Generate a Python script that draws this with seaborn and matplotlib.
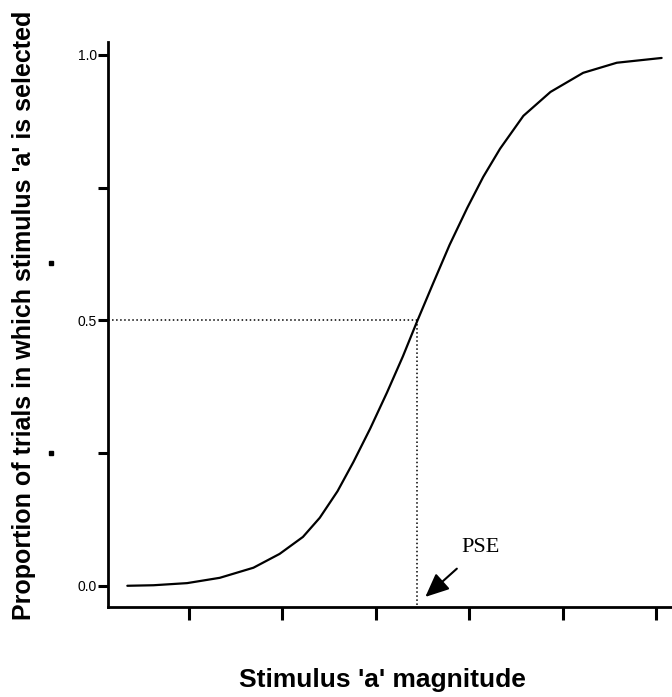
import numpy as np
import pandas as pd
import matplotlib
matplotlib.use('Agg')
import matplotlib.pyplot as plt
import seaborn as sns

# curve (stimulus magnitude in tick units, proportion)
stim = [0.34, 0.62, 0.98, 1.33, 1.69, 1.97, 2.22, 2.40, 2.59, 2.76, 2.94,
        3.12, 3.29, 3.44, 3.61, 3.79, 3.98, 4.15, 4.33, 4.58, 4.87, 5.22,
        5.58, 6.06]
prop = [0.0, 0.001, 0.005, 0.015, 0.034, 0.060, 0.092, 0.128, 0.178, 0.233,
        0.296, 0.364, 0.432, 0.497, 0.568, 0.642, 0.712, 0.770, 0.823, 0.885,
        0.930, 0.966, 0.985, 0.994]
pse = 3.44
x_ticks = [1, 2, 3, 4, 5, 6]
y_ticks = [0.0, 0.25, 0.5, 0.75, 1.0]
y_ticklabels = ['0.0', '', '0.5', '', '1.0']

df = pd.DataFrame({'stim': stim, 'prop': prop})

sns.set_style('ticks')
plt.rcParams['font.family'] = ['Liberation Sans', 'DejaVu Sans']
plt.rcParams['text.color'] = 'black'

fig = plt.figure(figsize=(6.72, 6.97), dpi=100)
ax = fig.add_axes([0.1607, 0.1291, 0.8393, 0.8106])

sns.lineplot(data=df, x='stim', y='prop', color='black', linewidth=1.6,
             solid_joinstyle='round', ax=ax)

# dotted guides to the PSE
ax.plot([0.133, pse], [0.5, 0.5], linestyle=':', color='black', linewidth=1.1)
ax.plot([pse, pse], [0.5, -0.04], linestyle=':', color='black', linewidth=1.1)

ax.set_xlim(0.133, 6.171)
ax.set_ylim(-0.04, 1.024)
ax.set_xticks(x_ticks)
ax.set_xticklabels([])
ax.set_yticks(y_ticks)
ax.set_yticklabels(y_ticklabels, fontsize=10)
ax.tick_params(axis='y', length=7, width=2.2, pad=1, colors='black')
ax.tick_params(axis='x', length=9, width=2.2, colors='black')
ax.set_xlabel('')
ax.set_ylabel('')
sns.despine(ax=ax)
for side in ['left', 'bottom']:
    ax.spines[side].set_linewidth(2)
    ax.spines[side].set_color('black')

ax.annotate('PSE', xy=(3.53, -0.021), xytext=(4.12, 0.072),
            fontsize=16, family=['Liberation Serif', 'DejaVu Serif'],
            ha='center', va='center',
            arrowprops=dict(arrowstyle='-|>,head_width=0.4,head_length=0.9',
                            color='black', linewidth=1.5,
                            shrinkA=9, shrinkB=0))

# stray marks left of the axis in the original
ax.plot([-0.101, -0.101], [0.608, 0.25], 's', color='black', markersize=3,
        transform=ax.get_yaxis_transform(), clip_on=False)

fig.text(0.036, 0.548, "Proportion of trials in which stimulus 'a' is selected",
         rotation=90, ha='center', va='center', fontsize=18,
         fontweight='bold', color='black')
fig.text(0.569, 0.024, "Stimulus 'a' magnitude", ha='center', va='center',
         fontsize=19, fontweight='bold', color='black')

fig.savefig('out.png', dpi=100)
